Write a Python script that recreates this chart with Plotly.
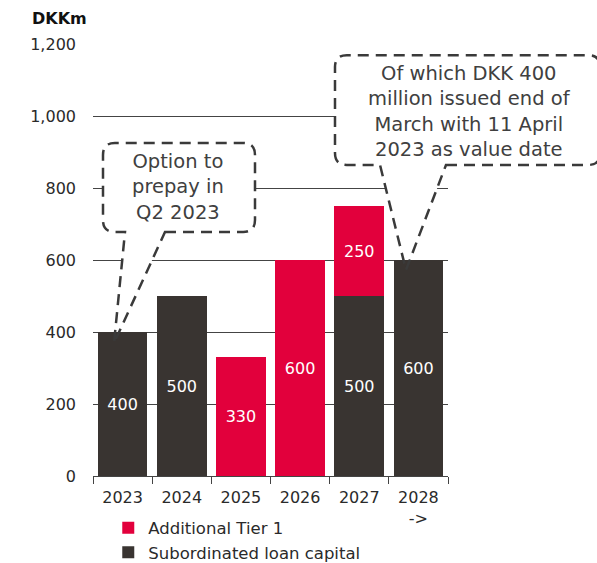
import plotly.graph_objects as go

# Maturity profile of capital instruments, DKK million
years = ["2023", "2024", "2025", "2026", "2027", "2028<br>->"]
subordinated = [400, 500, None, None, 500, 600]
additional_tier1 = [None, None, 330, 600, 250, None]

RED = "#E2003C"
DARK = "#393431"
TXT = "#2a2a2a"
FONT = "DejaVu Sans"

xpos = list(range(len(years)))
Y_MAX = 1200


def labels(vals):
    return [f"{v:,}" if v is not None else "" for v in vals]


fig = go.Figure()
fig.add_trace(go.Bar(
    x=xpos, y=subordinated, name="Subordinated loan capital",
    marker=dict(color=DARK, line=dict(width=0)),
    text=labels(subordinated), textposition="inside",
    insidetextanchor="middle", textfont=dict(color="white", size=16, family=FONT),
    width=0.84,
))
fig.add_trace(go.Bar(
    x=xpos, y=additional_tier1, name="Additional Tier 1",
    marker=dict(color=RED, line=dict(width=0)),
    text=labels(additional_tier1), textposition="inside",
    insidetextanchor="middle", textfont=dict(color="white", size=16, family=FONT),
    width=0.84,
))


# Speech-bubble callouts (box + pointer), in data units: x = bar index, y = DKKm
def bubble_points(x0, x1, y0, y1, tail_l, tail_r, tip_x, tip_y, rx=0.2, ry=33):
    return [
        ("M", (tail_r, y0)),
        ("L", (x1 - rx, y0)),
        ("Q", (x1, y0), (x1, y0 + ry)),
        ("L", (x1, y1 - ry)),
        ("Q", (x1, y1), (x1 - rx, y1)),
        ("L", (x0 + rx, y1)),
        ("Q", (x0, y1), (x0, y1 - ry)),
        ("L", (x0, y0 + ry)),
        ("Q", (x0, y0), (x0 + rx, y0)),
        ("L", (tail_l, y0)),
        ("L", (tip_x, tip_y)),
    ]


def to_path(cmds, fx=lambda x: x, fy=lambda y: y):
    parts = []
    for c in cmds:
        op, pts = c[0], c[1:]
        parts.append(op + " " + " ".join(f"{fx(px):.5f},{fy(py):.5f}" for px, py in pts))
    return " ".join(parts) + " Z"


n = len(years)
to_px = lambda x: (x + 0.5) / n
to_py = lambda y: y / Y_MAX

bubbles = [
    dict(geom=(-0.331, 2.238, 678, 925, 0.041, 0.717, -0.145, 369),
         text_at=(0.94, 803),
         text="Option to<br>prepay in<br>Q2 2023"),
    dict(geom=(3.590, 8.07, 864, 1169, 4.351, 5.466, 4.79, 572),
         text_at=(5.87, 1013),
         text="Of which DKK 400<br>million issued end of<br>March with 11 April<br>2023 as value date"),
]

for b in bubbles:
    x0, x1, y0, y1, tl, tr, tx, ty = b["geom"]
    cmds = bubble_points(x0, x1, y0, y1, tl, tr, tx, ty)
    # white fill that hides gridlines behind the bubble
    fig.add_shape(type="path", path=to_path(cmds), xref="x", yref="y",
                  layer="between", fillcolor="white", line=dict(width=0))
    # dashed outline drawn above the bars
    fig.add_shape(type="path", path=to_path(cmds, to_px, to_py), xref="paper", yref="paper",
                  layer="above", fillcolor="rgba(0,0,0,0)",
                  line=dict(color="#3a3a3a", width=2.5, dash="11px,7px"))
    cx, cy = b["text_at"]
    fig.add_annotation(x=to_px(cx), y=to_py(cy), xref="paper", yref="paper",
                       xanchor="center", yanchor="middle",
                       text=b["text"], showarrow=False, align="center",
                       font=dict(family=FONT, size=19.5, color="#404040"))

fig.add_annotation(x=-0.177, y=1.06, xref="paper", yref="paper", xanchor="left",
                   yanchor="middle", text="<b>DKKm</b>", showarrow=False,
                   font=dict(family=FONT, size=16, color="#111"))

fig.update_layout(
    width=597, height=563,
    margin=dict(l=93, r=149, t=44, b=87, autoexpand=False),
    barmode="stack",
    paper_bgcolor="white", plot_bgcolor="white",
    font=dict(family=FONT, size=16, color=TXT),
    showlegend=True,
    legend=dict(orientation="v", traceorder="reversed", x=0.043, y=-0.08,
                xanchor="left", yanchor="top", font=dict(size=16.5, color=TXT),
                itemwidth=30, tracegroupgap=0, bgcolor="rgba(0,0,0,0)"),
    uniformtext=dict(mode="show", minsize=10),
)
fig.update_xaxes(
    range=[-0.5, n - 0.5], tickmode="array", tickvals=xpos, ticktext=years,
    ticks="", showgrid=False, showline=True, linecolor="#444", linewidth=1,
    tickfont=dict(size=16, color=TXT), ticklabelstandoff=7,
    minor=dict(tickmode="linear", tick0=-0.5, dtick=1, ticks="outside",
               ticklen=7, tickcolor="#444", tickwidth=1, showgrid=False),
    fixedrange=True,
)
fig.update_yaxes(
    range=[0, Y_MAX], dtick=200, tickformat=",", showgrid=True,
    gridcolor="#444", gridwidth=1, zeroline=False, showline=False,
    ticks="", ticklabelstandoff=16, tickfont=dict(size=16, color=TXT),
    fixedrange=True,
)

fig.write_html("out.html")
